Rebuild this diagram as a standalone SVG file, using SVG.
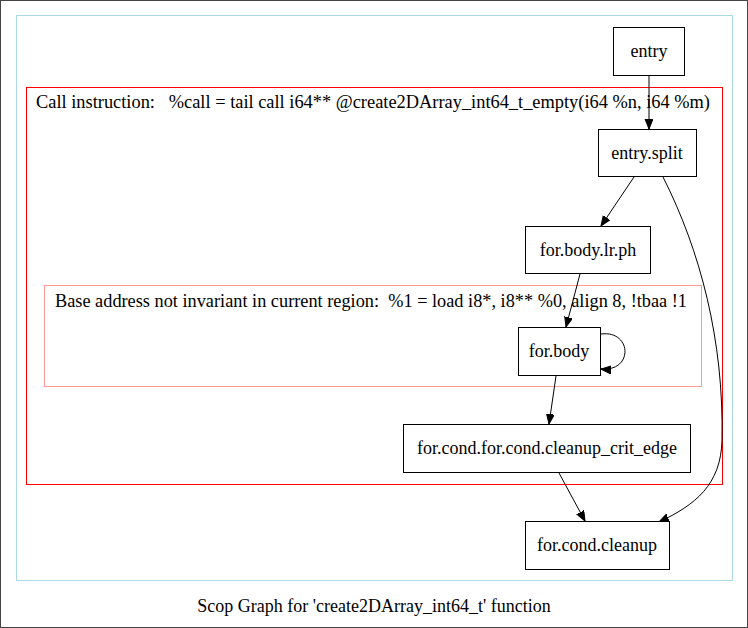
<svg xmlns="http://www.w3.org/2000/svg" width="748" height="628" viewBox="0 0 748 628">
  <style>
    .lbl { font-family: 'Liberation Serif', 'DejaVu Serif', serif; font-size: 18px; fill: #000; white-space: pre; }
    .node rect { fill: #fff; stroke: #000; stroke-width: 1; }
    .edge { fill: none; stroke: #000; stroke-width: 1; }
  </style>
  <defs>
    <marker id="arrow" markerUnits="userSpaceOnUse" markerWidth="12" markerHeight="10" refX="10" refY="4" orient="auto">
      <path d="M0,0 L10,4 L0,8 Z" fill="#000" stroke="#000" stroke-width="1"/>
    </marker>
  </defs>

  <!-- page frame -->
  <rect x="0.5" y="0.5" width="747" height="627" fill="#fff" stroke="#444"/>

  <!-- function cluster -->
  <rect x="16.5" y="15.5" width="716" height="565" fill="none" stroke="#add8e6"/>
  <!-- call instruction region -->
  <rect x="26.5" y="87.5" width="696" height="397" fill="none" stroke="#ff0000"/>
  <text class="lbl" x="36" y="108" xml:space="preserve" textLength="674" lengthAdjust="spacingAndGlyphs">Call instruction:   %call = tail call i64** @create2DArray_int64_t_empty(i64 %n, i64 %m)</text>
  <!-- non-invariant base address region -->
  <rect x="44.5" y="285.5" width="657" height="101" fill="none" stroke="#ff9999"/>
  <text class="lbl" x="55" y="307" xml:space="preserve" textLength="632" lengthAdjust="spacingAndGlyphs">Base address not invariant in current region:  %1 = load i8*, i8** %0, align 8, !tbaa !1</text>

  <g id="edges">
    <path class="edge" d="M649,75 L649,129" marker-end="url(#arrow)"/>
    <path class="edge" d="M634,177 L601,226" marker-end="url(#arrow)"/>
    <path class="edge" d="M663,177 C700,250 724,340 722,440 C721,485 695,505 659,522" marker-end="url(#arrow)"/>
    <path class="edge" d="M580,274 L566,327" marker-end="url(#arrow)"/>
    <path class="edge" d="M601,334 C632,330 634,372 601,369" marker-end="url(#arrow)"/>
    <path class="edge" d="M556,376 L549,424" marker-end="url(#arrow)"/>
    <path class="edge" d="M559,473 L585,521" marker-end="url(#arrow)"/>
  </g>

  <g id="entry" class="node">
    <rect x="613.5" y="27.5" width="71" height="48"/>
    <text class="lbl" x="649" y="57" text-anchor="middle">entry</text>
  </g>
  <g id="entry.split" class="node">
    <rect x="598.5" y="129.5" width="98" height="47"/>
    <text class="lbl" x="647" y="159" text-anchor="middle">entry.split</text>
  </g>
  <g id="for.body.lr.ph" class="node">
    <rect x="525.5" y="226.5" width="125" height="47"/>
    <text class="lbl" x="588" y="256" text-anchor="middle">for.body.lr.ph</text>
  </g>
  <g id="for.body" class="node">
    <rect x="518.5" y="327.5" width="82" height="48"/>
    <text class="lbl" x="559" y="357" text-anchor="middle">for.body</text>
  </g>
  <g id="for.cond.for.cond.cleanup_crit_edge" class="node">
    <rect x="403.5" y="424.5" width="287" height="48"/>
    <text class="lbl" x="547" y="454" text-anchor="middle">for.cond.for.cond.cleanup_crit_edge</text>
  </g>
  <g id="for.cond.cleanup" class="node">
    <rect x="525.5" y="521.5" width="144" height="48"/>
    <text class="lbl" x="597" y="551" text-anchor="middle">for.cond.cleanup</text>
  </g>

  <text class="lbl" x="374" y="612" text-anchor="middle">Scop Graph for 'create2DArray_int64_t' function</text>
</svg>
